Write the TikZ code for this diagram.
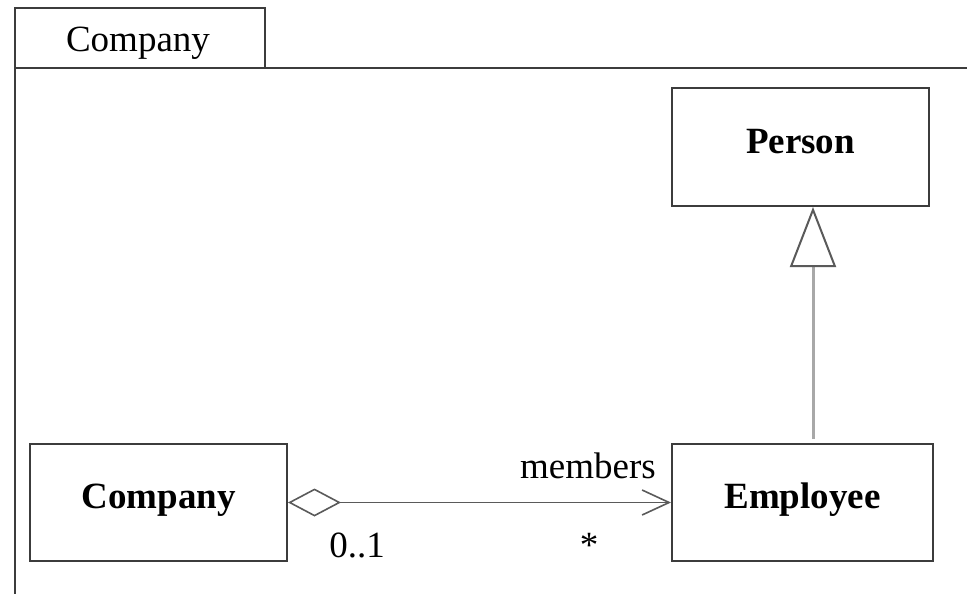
\documentclass[tikz,border=0pt]{standalone}
\usepackage{fontspec}
\setmainfont{Liberation Serif}
\usetikzlibrary{arrows.meta}
\definecolor{edgegray}{HTML}{3C3C3C}
\definecolor{linkgray}{HTML}{5A5A5A}
\definecolor{gengray}{HTML}{A8A8A8}
\begin{document}
\begin{tikzpicture}[x=1pt,y=-1pt,
  every node/.style={font=\fontsize{37}{44}\selectfont},
  classbox/.style={draw=edgegray, line width=2pt, rectangle, inner sep=0pt,
    text height=12pt, text depth=0pt, font=\fontsize{37}{44}\selectfont\bfseries},
  frameline/.style={draw=edgegray, line width=2pt},
  assoc/.style={draw=linkgray, line width=1.6pt,
    {Diamond[open, fill=white, length=53pt, width=28pt, line width=1.6pt]}-{Straight Barb[length=27pt, width=25pt, line width=1.6pt]}},
  general/.style={draw=gengray, line width=3pt,
    -{Triangle[open, fill=white, color=linkgray, length=60pt, width=46pt, line width=2pt]}},
  mult/.style={anchor=base, inner sep=0pt, text=black}]
  \useasboundingbox (0,0) rectangle (967,594);
  % package frame with its tab
  \path[frameline] (15,594) -- (15,8) -- (265,8) -- (265,68);
  \path[frameline] (15,68) -- (967,68);
  \node[mult] (pkg) at (138,52) {Company};
  % classes
  \node[classbox, minimum width=257pt, minimum height=117pt] (company) at (158.5,502.5) {Company};
  \node[classbox, minimum width=257pt, minimum height=118pt] (person) at (800.5,147) {Person};
  \node[classbox, minimum width=261pt, minimum height=117pt] (employee) at (802.5,502.5) {Employee};
  % aggregation Company -> Employee
  \draw[assoc] (company.east) -- (employee.west);
  \node[mult] (role) at ([xshift=-83pt, yshift=24.5pt]employee.west) {members};
  \node[mult] (mleft) at ([xshift=69pt, yshift=-54.5pt]company.east) {0..1};
  \node[mult] (mright) at ([xshift=-82pt, yshift=-54.5pt]employee.west) {*};
  % generalization Employee -> Person
  \draw[general] ([xshift=10.5pt, yshift=4pt]employee.north) -- ([xshift=12.5pt]person.south);
\end{tikzpicture}
\end{document}
